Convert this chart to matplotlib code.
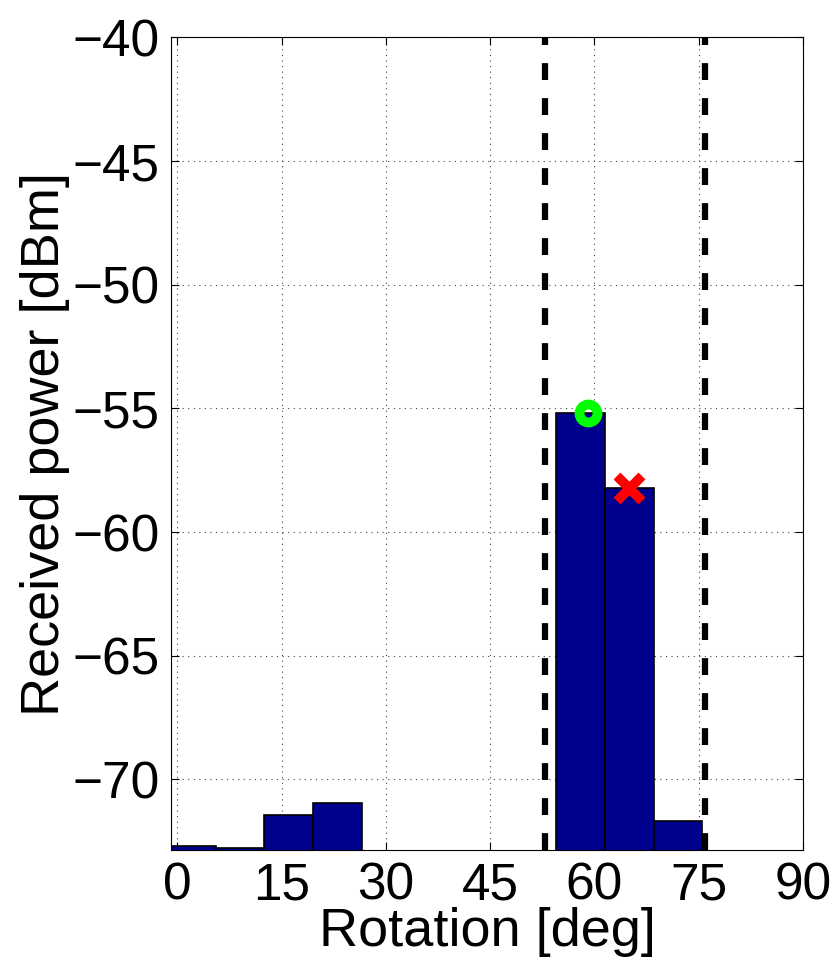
import matplotlib
matplotlib.use('Agg')
import matplotlib.pyplot as plt

# bar data (only bars that are visible above the axis floor)
angles = [2, 9, 16, 23, 58, 65, 72]
power = [-72.68, -72.76, -71.43, -70.96, -55.2, -58.2, -71.67]
base = -100

best_est = (59, -55.2)
true_peak = (65, -58.2)
sector = [52.9, 75.9]

plt.rcParams['font.family'] = ['Liberation Sans', 'DejaVu Sans']

fig = plt.figure(figsize=(8.4, 9.67), dpi=100)
ax = fig.add_axes([0.2036, 0.121, 0.7524, 0.8404])

heights = [p - base for p in power]
ax.bar(angles, heights, width=7, bottom=base, color='#00008F',
       edgecolor='black', linewidth=1.2, zorder=2)

for x in sector:
    ax.axvline(x, color='black', linewidth=4.5, linestyle=(0, (2.7, 2.9)), zorder=3)

ax.plot(*best_est, marker='o', markersize=13, markerfacecolor='none',
        markeredgecolor='#00FF00', markeredgewidth=7, zorder=4)
ax.plot(*true_peak, marker='x', markersize=18, markeredgecolor='red',
        markeredgewidth=7, zorder=4)

ax.set_xlim(-0.9, 90)
ax.set_ylim(-72.85, -40)
ax.set_xticks(range(0, 91, 15))
ax.set_yticks(range(-70, -39, 5))
ax.grid(True, linestyle=(0, (1, 4)), color='#444444', linewidth=0.8)
ax.set_axisbelow(True)
ax.tick_params(direction='in', labelsize=37, length=6, top=True, right=True, pad=8)
ax.set_xlabel('Rotation [deg]', fontsize=39, labelpad=-2)
ax.set_ylabel('Received power [dBm]', fontsize=39, labelpad=2)

fig.savefig('out.png', dpi=100)
